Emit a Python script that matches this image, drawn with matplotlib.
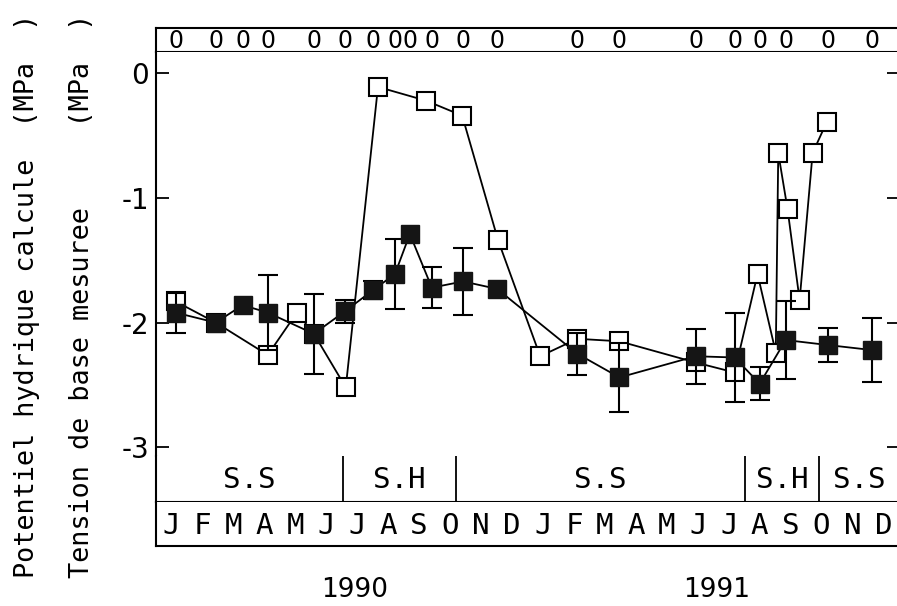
import matplotlib
matplotlib.use('Agg')
import matplotlib.pyplot as plt
import numpy as np

# months counted from 1 Jan 1990 (0) to 31 Dec 1991 (24)
filled_x = [0.63, 1.93, 2.80, 3.61, 5.10, 6.10, 7.01, 7.72, 8.20, 8.91, 9.92, 11.02,
            13.61, 14.97, 17.43, 18.69, 19.50, 20.34, 21.70, 23.12]
filled_y = [-1.92, -2.00, -1.86, -1.92, -2.09, -1.91, -1.74, -1.61, -1.29, -1.72, -1.67, -1.73,
            -2.25, -2.44, -2.27, -2.28, -2.49, -2.14, -2.18, -2.22]
filled_err = [0.16, 0, 0, 0.30, 0.32, 0.09, 0.07, 0.28, 0, 0.165, 0.27, 0,
              0.17, 0.28, 0.22, 0.36, 0.13, 0.31, 0.14, 0.26]

open_x = [0.63, 1.93, 3.61, 4.55, 5.10, 6.13, 7.17, 8.72, 9.89, 11.05, 12.41, 13.61,
          14.97, 17.43, 18.69, 19.43, 20.02, 20.10, 20.40, 20.79, 21.21, 21.67]
open_y = [-1.83, -2.00, -2.26, -1.92, -2.09, -2.52, -0.11, -0.22, -0.34, -1.34, -2.27, -2.13,
          -2.15, -2.32, -2.40, -1.61, -2.24, -0.64, -1.09, -1.82, -0.64, -0.39]

season_names = ['S.S', 'S.H', 'S.S', 'S.H', 'S.S']
season_bounds = [0, 6.04, 9.69, 19.04, 21.4, 24]
month_labels = list('JFMAMJJASOND') * 2
years = ['1990', '1991']
year_pos = [6.4, 18.1]

SANS = ['DejaVu Sans']
MONO = ['DejaVu Sans Mono']

W, H = 897, 606
fig = plt.figure(figsize=(W / 100, H / 100), dpi=100)


def box(l, t, r, b):
    return [l / W, 1 - b / H, (r - l) / W, (b - t) / H]


ax_zero = fig.add_axes(box(156, 28, 899, 52))
ax = fig.add_axes(box(156, 52, 899, 456))
ax_season = fig.add_axes(box(156, 456, 899, 502))
ax_month = fig.add_axes(box(156, 502, 899, 546))

for a in [ax_zero, ax, ax_season, ax_month]:
    a.set_xlim(0, 24)
    a.set_xticks([])
    for s in a.spines.values():
        s.set_linewidth(1.5)
    a.spines['right'].set_visible(False)

for a in [ax_zero, ax_season, ax_month]:
    a.set_ylim(0, 1)
    a.set_yticks([])

ax.spines['top'].set_visible(False)
ax.spines['bottom'].set_visible(False)
ax_season.spines['top'].set_visible(False)
ax_month.spines['top'].set_visible(False)

# main plot
ax.set_ylim(-3.07, 0.17)
ax.set_yticks([0, -1, -2, -3])
ax.set_yticklabels(['0', '-1', '-2', '-3'], fontfamily=SANS, fontsize=20)
ax.tick_params(axis='y', direction='in', length=9, width=1.3, pad=5, right=True)

ax.plot(open_x, open_y, color='black', lw=1.3, marker='s', ms=13,
        mfc='white', mec='black', mew=1.5, zorder=2)
ax.plot(filled_x, filled_y, color='black', lw=1.3, marker='s', ms=13,
        mfc='#151515', mec='#151515', zorder=4)
fx = np.array(filled_x)
fy = np.array(filled_y)
fe = np.array(filled_err)
m = fe > 0
ax.errorbar(fx[m], fy[m], yerr=fe[m], fmt='none', ecolor='black',
            elinewidth=1.5, capsize=7, capthick=1.5, zorder=3)

# row of zeros on top
for x in filled_x:
    ax_zero.text(x, 0.45, '0', ha='center', va='center', fontfamily=SANS, fontsize=17)

# season band
for b in season_bounds[1:-1]:
    ax_season.axvline(b, color='black', lw=1.3)
for name, a0, a1 in zip(season_names, season_bounds[:-1], season_bounds[1:]):
    ax_season.text((a0 + a1) / 2, 0.48, name, ha='center', va='center',
                   fontfamily=MONO, fontsize=21)

# months
for i, lab in enumerate(month_labels):
    ax_month.text(i + 0.5, 0.45, lab, ha='center', va='center', fontfamily=MONO, fontsize=21)

for yr, x in zip(years, year_pos):
    ax_month.text(x, -1.0, yr, ha='center', va='center', fontfamily=SANS, fontsize=19,
                  transform=ax_month.get_xaxis_transform())

# y labels
fig.text(27.5 / W, 1 - 578 / H, 'Potentiel hydrique calcule  (MPa  )', rotation=90,
         ha='center', va='bottom', fontfamily=MONO, fontsize=19.4)
fig.text(82 / W, 1 - 578 / H, 'Tension de base mesuree     (MPa  )', rotation=90,
         ha='center', va='bottom', fontfamily=MONO, fontsize=19.4)

fig.savefig('out.png', dpi=100)
